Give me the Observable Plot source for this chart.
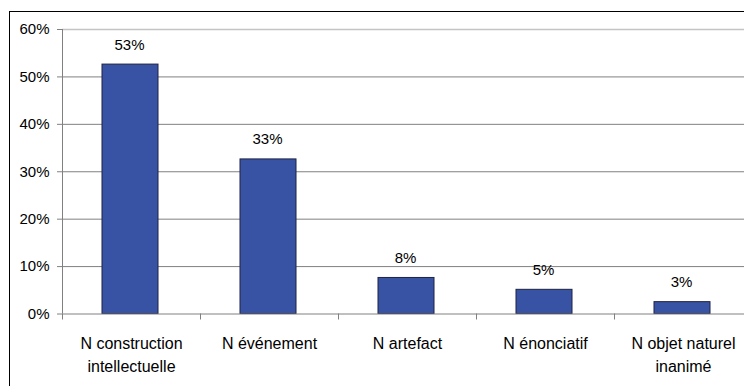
<!DOCTYPE html>
<html>
<head>
<meta charset="utf-8">
<script src="https://cdn.jsdelivr.net/npm/d3@7"></script>
<script src="https://cdn.jsdelivr.net/npm/@observablehq/plot@0.6"></script>
<style>
  html, body { margin: 0; padding: 0; width: 744px; height: 386px; overflow: hidden; background: #fff; }
  #frame { position: absolute; left: 9px; top: 11px; width: 800px; height: 400px;
           border-left: 1.5px solid #000; border-top: 1.5px solid #000; box-sizing: border-box; }
  #chart { position: absolute; left: 0; top: 0; width: 760px; }
  #chart svg { font-family: "Liberation Sans", Arial, sans-serif; max-width: none !important; }
</style>
</head>
<body>
<div id="frame"></div>
<div id="chart"></div>
<script>
const categories = ["N construction\nintellectuelle", "N événement", "N artefact", "N énonciatif", "N objet naturel\ninanimé"];
const values = [0.526, 0.326, 0.076, 0.051, 0.025];
const valueLabels = ["53%", "33%", "8%", "5%", "3%"];
const yTicks = [0, 0.1, 0.2, 0.3, 0.4, 0.5, 0.6];

const data = categories.map((c, i) => ({cat: c, i, value: values[i], label: valueLabels[i]}));
const boundaries = d3.range(categories.length + 1);

const chart = Plot.plot({
  width: 760,
  height: 386,
  marginLeft: 62,
  marginRight: 8,
  marginTop: 29,
  marginBottom: 72.5,
  style: {background: "transparent", overflow: "visible", maxWidth: "none"},
  x: {domain: [0, categories.length], axis: null},
  y: {domain: [0, 0.6], axis: null},
  marks: [
    Plot.ruleY(yTicks.filter(t => t > 0 && t < 0.6), {stroke: "#808080", strokeWidth: 1}),
    Plot.ruleY([0.6], {stroke: "#c4c4c4", strokeWidth: 1.5}),
    Plot.rectY(data, {
      x1: d => d.i, x2: d => d.i + 1, y1: 0, y2: "value",
      insetLeft: 40, insetRight: 42,
      fill: "#3953a4", stroke: "#1e2340", strokeWidth: 1
    }),
    Plot.ruleY([0], {stroke: "#808080", strokeWidth: 1}),
    Plot.ruleX([0], {stroke: "#808080", strokeWidth: 1}),
    Plot.axisY({
      ticks: yTicks, tickFormat: d3.format(".0%"), tickSize: 5, tickPadding: 8,
      stroke: "#808080", fontSize: 15, color: "#000", label: null
    }),
    Plot.axisX({
      ticks: boundaries, tickSize: 6, tickFormat: () => "", stroke: "#808080", label: null
    }),
    Plot.text(data, {
      x: d => d.i + 0.5, y: "value", text: "label",
      lineAnchor: "bottom", dy: -15, dx: -2, fontSize: 15, fill: "#000"
    }),
    Plot.text(data, {
      x: d => d.i + 0.5, y: 0, text: "cat",
      lineAnchor: "top", dy: 19, fontSize: 16, lineHeight: 1.42, fill: "#000"
    })
  ]
});
document.getElementById("chart").appendChild(chart);
</script>
</body>
</html>
